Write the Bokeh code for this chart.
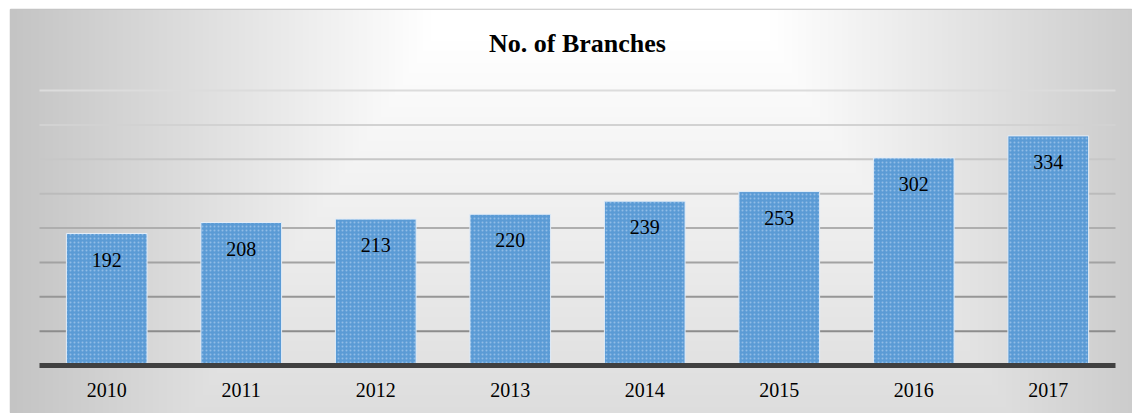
import numpy as np
from bokeh.plotting import figure
from bokeh.models import Range1d, FixedTicker, LinearAxis, Label
from bokeh.embed import file_html
from bokeh.resources import INLINE
from bokeh.core.properties import value

# ---- data ----
years = ["2010", "2011", "2012", "2013", "2014", "2015", "2016", "2017"]
branches = [192, 208, 213, 220, 239, 253, 302, 334]
grid_values = [50, 100, 150, 200, 250, 300, 350, 400]
title_text = "No. of Branches"

# ---- layout constants (pixels) ----
W, H = 1132, 413
FL, FT = 10, 9              # frame left / top
PX_X = 134.5                # pixels per category
PX_Y = 0.6875               # pixels per unit
X0_PX, Y0_PX = 39, 365      # pixel of x=-0.5 and y=0

x_start = -0.5 - (X0_PX - FL) / PX_X
x_end = -0.5 + (W - X0_PX) / PX_X
y_start = -(H - Y0_PX) / PX_Y
y_end = (Y0_PX - FT) / PX_Y

p = figure(width=W, height=H, output_backend="svg", toolbar_location=None,
           x_range=Range1d(x_start, x_end), y_range=Range1d(y_start, y_end),
           x_axis_location=None, y_axis_location=None,
           min_border_left=FL, min_border_right=0, min_border_top=FT, min_border_bottom=0)
p.xgrid.visible = False
p.ygrid.visible = False
p.border_fill_color = "white"
p.background_fill_color = "white"
p.outline_line_color = "#c4c4c4"
p.outline_line_width = 1.5

# ---- background gradient (decoration) ----
gw, gh = (W - FL) // 2, (H - FT) // 2
px = FL + (np.arange(gw) + 0.5) * 2
py = FT + (np.arange(gh) + 0.5) * 2
PXg, PYg = np.meshgrid(px, py)
dropx = 0.14 * np.maximum(np.abs(PXg - 600) - 170, 0)
dropy = 0.09 * np.maximum(PYg - 40, 0)
v = np.clip(255 - np.maximum(dropx, dropy), 194, 255).astype(np.uint32)
v = v[::-1, :]
img = (255 << 24) | (v << 16) | (v << 8) | v
img = img.astype(np.uint32)
p.image_rgba(image=[img], x=x_start, y=y_start, dw=x_end - x_start, dh=y_end - y_start)

# ---- gridlines ----
grid_colors = ["#8c8c8c", "#969696", "#a2a2a2", "#aeaeae", "#bbbbbb", "#c7c7c7", "#d2d2d2", "#dcdcdc"]
p.segment(x0=[-0.5] * len(grid_values), x1=[7.5] * len(grid_values),
          y0=grid_values, y1=grid_values, line_color=grid_colors, line_width=2)

# ---- bars ----
xs = list(range(len(years)))
p.vbar(x=xs, top=branches, bottom=0, width=0.6,
       fill_color="#5b9bd5", line_color="#e3edf8", line_width=1,
       hatch_pattern="dot", hatch_color="#a8cbee", hatch_scale=4, hatch_alpha=0.7)

# ---- data labels ----
p.text(x=xs, y=branches, text=[str(b) for b in branches],
       text_align="center", text_baseline="middle", y_offset=26,
       text_font=value("Liberation Serif"), text_font_size="20px", text_color="black")

# ---- x axis ----
ax = LinearAxis(fixed_location=0, ticker=FixedTicker(ticks=xs),
                major_label_overrides={i: y for i, y in enumerate(years)},
                bounds=(-0.5, 7.5))
ax.axis_line_color = "#404040"
ax.axis_line_width = 5
ax.major_tick_line_color = None
ax.minor_tick_line_color = None
ax.major_tick_out = 0
ax.major_tick_in = 0
ax.major_label_standoff = 17
ax.major_label_text_font = "Liberation Serif"
ax.major_label_text_font_size = "20px"
ax.major_label_text_color = "black"
p.add_layout(ax, "below")

# ---- title ----
p.add_layout(Label(x=3.5, y=(Y0_PX - 43) / PX_Y, text=title_text,
                   text_align="center", text_baseline="alphabetic",
                   text_font="Liberation Serif", text_font_size="26px",
                   text_font_style="bold", text_color="black"))

open("out.html", "w").write(file_html(p, INLINE))
